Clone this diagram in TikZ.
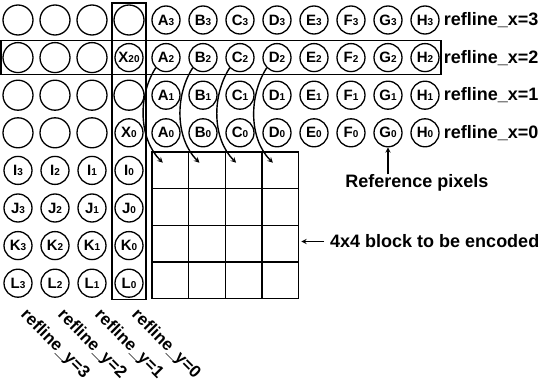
\documentclass[tikz,border=0pt]{standalone}
\usepackage{fontspec}
\setmainfont{Liberation Sans}
\usetikzlibrary{positioning,calc,fit,arrows}

\newcommand{\pixlbl}[2]{#1{\fontsize{10}{10}\selectfont #2}}

\begin{document}
\begin{tikzpicture}[x=1pt, y=-1pt,
    pixel/.style={circle, draw, line width=1.3pt, minimum size=28pt, inner sep=0pt, font=\fontsize{15}{15}\selectfont\bfseries},
    blank/.style={circle, draw, line width=1.3pt, minimum size=30pt, inner sep=0pt},
    cell/.style={rectangle, draw, line width=1.3pt, minimum size=36.7pt, inner sep=0pt},
    frame/.style={rectangle, draw, line width=1.4pt, inner sep=1.5pt},
    lbl/.style={font=\fontsize{18}{18}\selectfont\bfseries, inner sep=0pt}
]
    \useasboundingbox (0,0) rectangle (542,385);

    % unused neighbours
    \foreach \c in {0,1,2}
      \foreach \r in {0,...,3}
        \node[blank] (e\c\r) at ({18+37*\c},{20+37.6*\r}) {};
    \node[blank] (e30) at (129,20) {};
    \node[blank] (e32) at (129,95.2) {};
    \node[pixel] (X20) at (129,57.6) {\pixlbl{X}{20}};
    \node[pixel] (X0) at (129,132.8) {\pixlbl{X}{0}};

    % upper reference pixels
    \foreach \l [count=\i from 4] in {A,...,H}
      \foreach \k [count=\r from 0] in {3,2,1,0}
        \node[pixel] (\l\k) at ({18+37*\i},{20+37.6*\r}) {\pixlbl{\l}{\k}};

    % left reference pixels
    \foreach \l [count=\r from 4] in {I,J,K,L}
      \foreach \k [count=\c from 0] in {3,2,1,0}
        \node[pixel] (\l\k) at ({18+37*\c},{20+37.6*\r}) {\pixlbl{\l}{\k}};

    % 4x4 block
    \foreach \r in {0,...,3}
      \foreach \c in {0,...,3}
        \node[cell] (c\r\c) at ({170.35+36.7*\c},{170.35+36.7*\r}) {};

    \node[frame, fit=(e30)(L0)] (colframe) {};
    \node[frame, fit=(e01)(H2)] (rowframe) {};

    \foreach \l [count=\c from 0] in {A,B,C,D}
      \draw[->, >=stealth, line width=1.4pt] (\l2.225) .. controls +(-18,28) and +(-24,-24) .. ($(c0\c)!0.4!(c0\c.north west)$);

    \foreach \k in {3,2,1,0}
      \node[lbl, right=4pt of H\k] (rx\k) {refline\_x=\k};

    \foreach \k in {3,2,1,0}
      \node[lbl, font=\fontsize{17}{17}\selectfont\bfseries, rotate=-45, anchor=base west] (ry\k) at ($(L\k.south)+(2,18)$) {refline\_y=\k};

    \node[lbl] (refpix) at (417,183) {Reference pixels};
    \draw[->, >=stealth, line width=1.3pt] (refpix.north -| G0) -- (G0.south);

    \node[lbl, anchor=west] (blocktxt) at (330,241.5) {4x4 block to be encoded};
    \draw[->, >=stealth, line width=1.3pt] ([xshift=-6pt]blocktxt.west) -- ([xshift=2pt]blocktxt.west -| c23.east);
\end{tikzpicture}
\end{document}
